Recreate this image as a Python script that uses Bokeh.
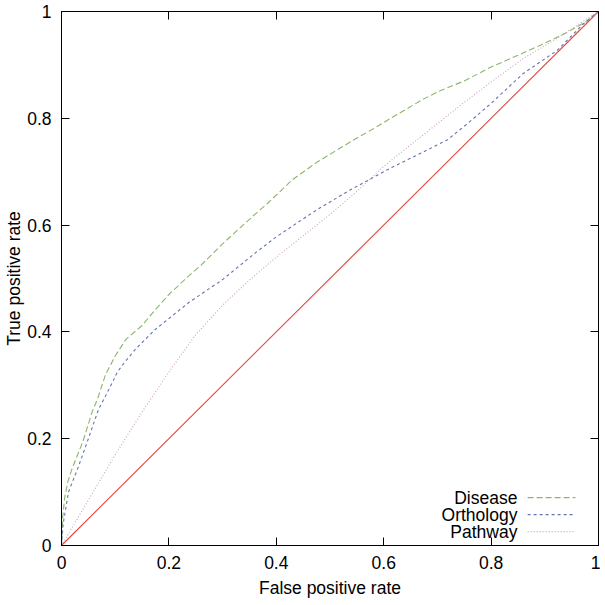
from bokeh.plotting import figure
from bokeh.models import Range1d, FixedTicker, LinearAxis, Label
from bokeh.embed import file_html
from bokeh.resources import INLINE

# ---- data ----
dis_fpr = [0, 0.002, 0.006, 0.012, 0.02, 0.03, 0.04, 0.057, 0.067, 0.082, 0.1, 0.12, 0.15, 0.175, 0.2, 0.237,
           0.26, 0.3, 0.36, 0.383, 0.43, 0.476, 0.54, 0.58, 0.613, 0.674, 0.706, 0.75, 0.8, 0.85, 0.892,
           0.94, 0.98, 1]
dis_tpr = [0, 0.05, 0.09, 0.12, 0.145, 0.17, 0.195, 0.25, 0.274, 0.32, 0.355, 0.386, 0.412, 0.442, 0.47, 0.505,
           0.525, 0.565, 0.62, 0.64, 0.685, 0.718, 0.757, 0.78, 0.80, 0.836, 0.852, 0.87, 0.896, 0.918, 0.937,
           0.96, 0.983, 1]

orth_fpr = [0, 0.003, 0.013, 0.032, 0.05, 0.069, 0.082, 0.097, 0.104, 0.119, 0.138, 0.162, 0.175, 0.2,
            0.237, 0.3, 0.361, 0.4, 0.476, 0.538, 0.613, 0.674, 0.719, 0.756, 0.8, 0.86, 0.923,
            0.972, 1]
orth_tpr = [0, 0.04, 0.1, 0.149, 0.2, 0.255, 0.28, 0.31, 0.325, 0.345, 0.368, 0.392, 0.405, 0.425,
            0.455, 0.498, 0.548, 0.578, 0.629, 0.666, 0.707, 0.737, 0.76, 0.79, 0.828, 0.884, 0.927,
            0.977, 1]

path_fpr = [0, 0.05, 0.1, 0.15, 0.2, 0.25, 0.3, 0.35, 0.4, 0.45, 0.5, 0.55, 0.6, 0.65,
            0.7, 0.75, 0.8, 0.86, 0.923, 1]
path_tpr = [0, 0.085, 0.17, 0.25, 0.325, 0.395, 0.45, 0.497, 0.54, 0.58, 0.62, 0.663, 0.71, 0.75,
            0.79, 0.83, 0.868, 0.912, 0.95, 1]

diag = [0, 1]

ticks = [0, 0.2, 0.4, 0.6, 0.8, 1]
tick_labels = ["0", "0.2", "0.4", "0.6", "0.8", "1"]

series_names = ["Disease", "Orthology", "Pathway"]
series_colors = ["#8bb66a", "#6673ad", "#c9a0c3"]
series_dash = ["6 3", "3 3", "1 2"]

FONT = "Liberation Sans"
FS = "17.5px"

p = figure(width=600, height=600, output_backend="svg", toolbar_location=None,
           x_range=Range1d(0, 1), y_range=Range1d(0, 1),
           min_border_left=61, min_border_right=2, min_border_top=11, min_border_bottom=53)
p.outline_line_color = "black"
p.outline_line_width = 1
p.grid.visible = False
p.background_fill_color = "white"
p.border_fill_color = "white"

overrides = {t: l for t, l in zip(ticks, tick_labels)}
for ax in (p.xaxis[0], p.yaxis[0]):
    ax.ticker = FixedTicker(ticks=ticks)
    ax.major_label_overrides = overrides
    ax.major_tick_in = 8
    ax.major_tick_out = 0
    ax.minor_tick_in = 0
    ax.minor_tick_out = 0
    ax.axis_line_color = "black"
    ax.major_tick_line_color = "black"
    ax.major_label_text_font = FONT
    ax.major_label_text_font_size = FS
    ax.major_label_text_color = "black"
    ax.axis_label_text_font = FONT
    ax.axis_label_text_font_size = FS
    ax.axis_label_text_font_style = "normal"
    ax.axis_label_text_color = "black"

p.xaxis[0].axis_label = "False positive rate"
p.yaxis[0].axis_label = "True positive rate"
p.xaxis[0].major_label_standoff = 10
p.xaxis[0].axis_label_standoff = 6
p.yaxis[0].major_label_standoff = 10
p.yaxis[0].axis_label_standoff = 0

for loc in ("right", "above"):
    ax = LinearAxis(ticker=FixedTicker(ticks=ticks), major_tick_in=8, major_tick_out=0,
                    minor_tick_in=0, minor_tick_out=0, major_label_text_font_size="0px",
                    major_label_standoff=0, axis_line_color="black", major_tick_line_color="black")
    p.add_layout(ax, loc)

# diagonal reference
p.segment(x0=[diag[0]], y0=[diag[0]], x1=[diag[1]], y1=[diag[1]], line_color="#e3463d", line_width=1.1)

curves = [(dis_fpr, dis_tpr), (orth_fpr, orth_tpr), (path_fpr, path_tpr)]
for (xs, ys), c, d in zip(curves, series_colors, series_dash):
    p.line(xs, ys, line_color=c, line_width=1.1, line_dash=d)

# gnuplot-style key (text right-aligned, sample to the right), positions in frame fractions
key_text_x = 0.849
key_line = (0.868, 0.957)
key_rows = [0.0896, 0.0578, 0.026]
for name, c, d, yk in zip(series_names, series_colors, series_dash, key_rows):
    p.add_layout(Label(x=key_text_x, y=yk, text=name, text_align="right", text_baseline="middle",
                       text_font=FONT, text_font_size=FS, text_color="black"))
    p.line(list(key_line), [yk, yk], line_color=c, line_width=1.1, line_dash=d)

open("out.html", "w").write(file_html(p, INLINE))
